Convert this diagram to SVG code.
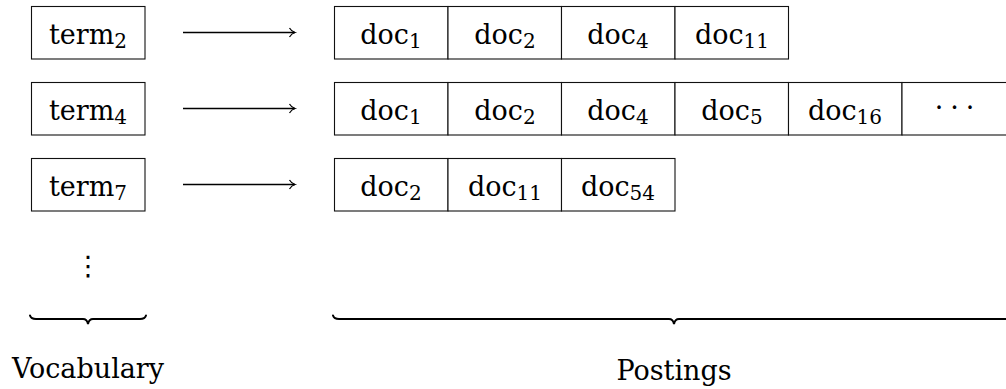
<svg xmlns="http://www.w3.org/2000/svg" width="1006" height="389" viewBox="0 0 1006 389">
  <style>
    .box { fill: #fff; stroke: #111; stroke-width: 1.1; }
    .lbl { font-family: "DejaVu Serif", "Liberation Serif", serif; font-size: 27px; fill: #000; text-anchor: middle; }
    .sub { font-size: 20px; }
    .conn { stroke: #000; stroke-width: 1.4; fill: none; }
    .brace { stroke: #000; stroke-width: 2; fill: none; stroke-linecap: round; }
  </style>
  <defs>
    <marker id="head" markerWidth="10" markerHeight="12" refX="7" refY="6" orient="auto" markerUnits="userSpaceOnUse">
      <path d="M1.5,1.5 Q3.5,5 7,6 Q3.5,7 1.5,10.5" fill="none" stroke="#000" stroke-width="1.2"/>
    </marker>
  </defs>

  <!-- vocabulary entries -->
  <g id="term2">
    <rect class="box" x="31.5" y="6.5" width="113.5" height="52.5"/>
    <text class="lbl" x="88" y="43.5">term<tspan class="sub" dy="4">2</tspan></text>
  </g>
  <g id="term4">
    <rect class="box" x="31.5" y="82.5" width="113.5" height="52.5"/>
    <text class="lbl" x="88" y="119.5">term<tspan class="sub" dy="4">4</tspan></text>
  </g>
  <g id="term7">
    <rect class="box" x="31.5" y="158.5" width="113.5" height="52.5"/>
    <text class="lbl" x="88" y="195.5">term<tspan class="sub" dy="4">7</tspan></text>
  </g>
  <g id="vocab-more">
    <text class="lbl" x="88" y="275" style="font-family:'DejaVu Sans',sans-serif">⋮</text>
  </g>

  <!-- pointers from terms to their postings lists -->
  <g id="connectors">
    <line class="conn" x1="183" y1="32.5" x2="295" y2="32.5" marker-end="url(#head)"/>
    <line class="conn" x1="183" y1="108.5" x2="295" y2="108.5" marker-end="url(#head)"/>
    <line class="conn" x1="183" y1="184.5" x2="295" y2="184.5" marker-end="url(#head)"/>
  </g>

  <!-- postings list for term2 -->
  <g id="postings-term2">
    <rect class="box" x="334.5" y="6.5" width="113.5" height="52.5"/>
    <rect class="box" x="448" y="6.5" width="113.5" height="52.5"/>
    <rect class="box" x="561.5" y="6.5" width="113.5" height="52.5"/>
    <rect class="box" x="675" y="6.5" width="113.5" height="52.5"/>
    <text class="lbl" x="391" y="43.5">doc<tspan class="sub" dy="4">1</tspan></text>
    <text class="lbl" x="505" y="43.5">doc<tspan class="sub" dy="4">2</tspan></text>
    <text class="lbl" x="618" y="43.5">doc<tspan class="sub" dy="4">4</tspan></text>
    <text class="lbl" x="732" y="43.5">doc<tspan class="sub" dy="4">11</tspan></text>
  </g>

  <!-- postings list for term4 -->
  <g id="postings-term4">
    <rect class="box" x="334.5" y="82.5" width="113.5" height="52.5"/>
    <rect class="box" x="448" y="82.5" width="113.5" height="52.5"/>
    <rect class="box" x="561.5" y="82.5" width="113.5" height="52.5"/>
    <rect class="box" x="675" y="82.5" width="113.5" height="52.5"/>
    <rect class="box" x="788.5" y="82.5" width="113.5" height="52.5"/>
    <rect class="box" x="902" y="82.5" width="113.5" height="52.5"/>
    <text class="lbl" x="391" y="119.5">doc<tspan class="sub" dy="4">1</tspan></text>
    <text class="lbl" x="505" y="119.5">doc<tspan class="sub" dy="4">2</tspan></text>
    <text class="lbl" x="618" y="119.5">doc<tspan class="sub" dy="4">4</tspan></text>
    <text class="lbl" x="732" y="119.5">doc<tspan class="sub" dy="4">5</tspan></text>
    <text class="lbl" x="845" y="119.5">doc<tspan class="sub" dy="4">16</tspan></text>
    <text class="lbl" x="958" y="117" letter-spacing="7">···</text>
  </g>

  <!-- postings list for term7 -->
  <g id="postings-term7">
    <rect class="box" x="334.5" y="158.5" width="113.5" height="52.5"/>
    <rect class="box" x="448" y="158.5" width="113.5" height="52.5"/>
    <rect class="box" x="561.5" y="158.5" width="113.5" height="52.5"/>
    <text class="lbl" x="391" y="195.5">doc<tspan class="sub" dy="4">2</tspan></text>
    <text class="lbl" x="505" y="195.5">doc<tspan class="sub" dy="4">11</tspan></text>
    <text class="lbl" x="618" y="195.5">doc<tspan class="sub" dy="4">54</tspan></text>
  </g>

  <!-- underbraces and captions -->
  <g id="vocabulary-label">
    <path class="brace" d="M30,315.5 Q31,319 36,319 L83,319 Q87,319 88,324 Q89,319 93,319 L140,319 Q145,319 146,315.5"/>
    <text class="lbl" x="88" y="378">Vocabulary</text>
  </g>
  <g id="postings-label">
    <path class="brace" d="M333,315.5 Q334,319 339,319 L669,319 Q673,319 674,324 Q675,319 679,319 L1009,319 Q1014,319 1015,315.5"/>
    <text class="lbl" x="674" y="380">Postings</text>
  </g>
</svg>
